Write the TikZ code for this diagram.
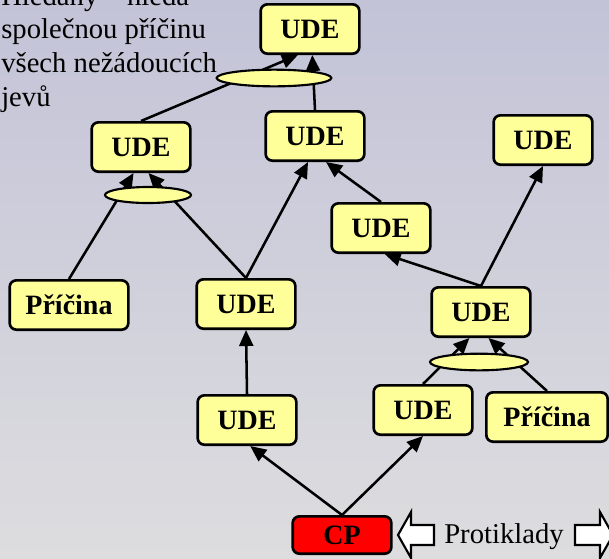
\documentclass[tikz,border=0pt]{standalone}
\usepackage{fontspec}
\setmainfont{Liberation Serif}
\usetikzlibrary{shapes.geometric,arrows.meta}

\definecolor{udeyellow}{RGB}{255,255,153}
\definecolor{bgtop}{RGB}{195,195,216}
\definecolor{bgbottom}{RGB}{221,221,223}

\tikzset{
  ude/.style={draw, fill=udeyellow, line width=2pt, rounded corners=5pt, inner sep=0pt,
    minimum width=74pt, minimum height=37pt, font=\bfseries\fontsize{21}{25}\selectfont},
  cause/.style={ude, minimum width=89pt},
  andgate/.style={ellipse, draw, fill=udeyellow, line width=1.6pt, inner sep=0pt, minimum height=12.5pt},
  link/.style={line width=1.9pt, -{Triangle[length=12pt,width=10.5pt]}},
  hollow/.style={draw, line width=1.6pt, fill=white},
}

\begin{document}
\begin{tikzpicture}[x=0.75pt,y=0.75pt,yscale=-1,xscale=1]
    \useasboundingbox (0,0) rectangle (609,558);
    % background
    \shade [top color=bgtop, bottom color=bgbottom] (0,0) rectangle (609,558);

    % Text Node
    \node [anchor=north west, align=left, inner sep=0pt, font=\fontsize{21.5}{25.3}\selectfont] (goal) at (1,-15)
      {Hledaný – hledá\\společnou příčinu\\všech nežádoucích\\jevů};

    % UDE boxes
    \node [ude] (ude1) at (310,29) {UDE};
    \node [ude] (ude2) at (141,147) {UDE};
    \node [ude] (ude3) at (315,136) {UDE};
    \node [ude] (ude4) at (543,140) {UDE};
    \node [ude] (ude5) at (381,228) {UDE};
    \node [ude] (ude6) at (246,304) {UDE};
    \node [ude] (ude7) at (481,312) {UDE};
    \node [ude] (ude8) at (423,410) {UDE};
    \node [ude] (ude9) at (247,420) {UDE};
    \node [cause] (cause1) at (69,305) {Příčina};
    \node [cause, minimum width=91pt] (cause2) at (547,417) {Příčina};
    \node [ude, fill=red, minimum height=28pt] (cp) at (342,535) {CP};

    % connectors
    \draw [link] (cp.north) -- (ude9.-83);
    \draw [link] (cp.north) -- (ude8.south);
    \draw [link] (ude9.north) -- (ude6.south);
    \draw [link] (ude6.north) -- (ude3.-105);
    \draw [link] (ude6.north) -- (ude2.-74);
    \draw [link] (cause1.north) -- (ude2.-106);
    \draw [link] (ude2.north) -- (ude1.-115);
    \draw [link] (ude3.north) -- (ude1.-85);
    \draw [link] (ude5.north) -- (ude3.-67);
    \draw [link] (ude7.north) -- (ude5.-82);
    \draw [link] (ude7.north) -- (ude4.south);
    \draw [link] (ude8.north) -- (ude7.-114);
    \draw [link] (cause2.north) -- (ude7.-74);

    % AND ellipses
    \node [andgate, minimum width=86pt] (and1) at (274,78) {};
    \node [andgate, minimum width=64.5pt, minimum height=12pt] (and2) at (148,195) {};
    \node [andgate, minimum width=73.5pt] (and3) at (479,362) {};

    % Protiklady
    \draw [hollow] (398,535) -- (411,512) -- (411,525) -- (434,525) -- (434,545) -- (411,545) -- (411,558) -- cycle;
    \draw [hollow] (575,525) -- (600,525) -- (600,512) -- (613,535) -- (600,558) -- (600,545) -- (575,545) -- cycle;
    \node [anchor=base, inner sep=0pt, font=\fontsize{21.5}{25}\selectfont] (contra) at (504,543) {Protiklady};

\end{tikzpicture}
\end{document}
